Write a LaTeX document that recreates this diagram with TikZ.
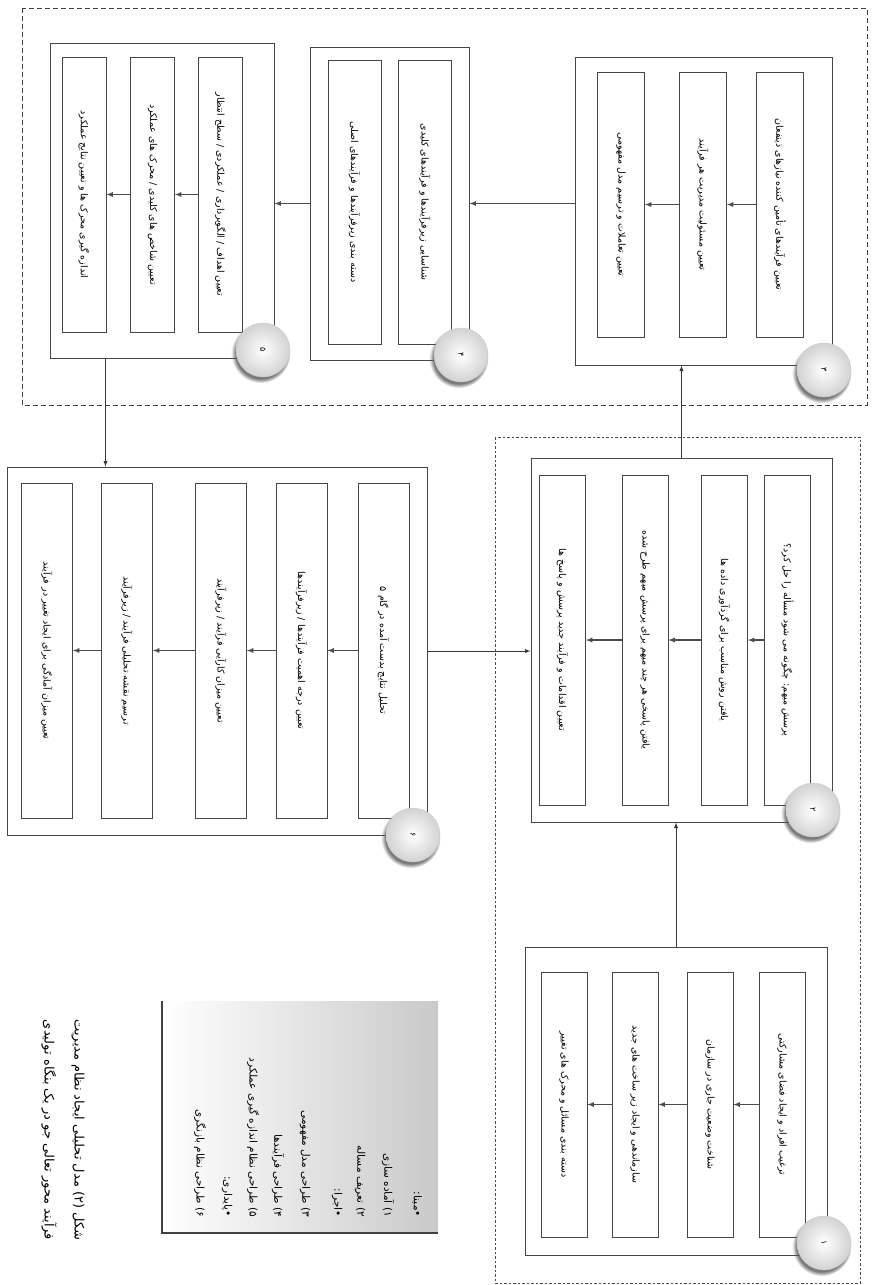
\documentclass[tikz,border=0pt]{standalone}
\usepackage{fontspec}
\newfontfamily\fa[Script=Arabic]{DejaVu Sans}
\TeXXeTstate=1
\usetikzlibrary{shapes,arrows,shadows}
\newcommand{\fatxt}[1]{\fa\beginR #1\endR}

\tikzset{
  stagebox/.style={draw=gray!55!black, line width=1pt, fill=white, inner sep=0pt},
  strip/.style={draw=gray!55!black, line width=0.8pt, fill=white, rotate=-90, inner sep=0pt,
    font=\fontsize{9.5}{11}\selectfont},
  disc/.style={circle, minimum size=54pt, inner sep=0pt, draw=gray!40, inner color=white, outer color=gray!35,
    circular drop shadow={shadow xshift=-2pt, shadow yshift=-3pt, fill=gray!70!black, opacity=0.8},
    font=\fontsize{8}{8}\selectfont},
  flow/.style={->, >=latex, line width=1.2pt, gray!60!black},
  link/.style={->, >=latex, line width=0.9pt, gray!45!black},
  outerframe/.style={draw=gray!50!black, line width=1pt, dash pattern=on 5pt off 3pt},
  innerframe/.style={draw=gray!60!black, line width=0.6pt, dash pattern=on 2.5pt off 2pt},
  legendbox/.style={inner sep=0pt, left color=white, right color=gray!42},
  legendedge/.style={draw=gray!50!black, line width=1.8pt},
  legitem/.style={rotate=-90, anchor=east, inner sep=1pt, font=\fontsize{10.5}{12}\selectfont},
  caption/.style={rotate=-90, align=center, inner sep=0pt, font=\fontsize{13}{30}\selectfont}
}

\begin{document}
\begin{tikzpicture}[x=1pt,y=-1pt]
  \useasboundingbox (0,0) rectangle (871,1285);

  % dashed groups
  \draw[outerframe] (22,8) rectangle (867,405);
  \draw[innerframe] (495,437) rectangle (860,1283);

  % stages
  \node[stagebox, minimum width=302pt, minimum height=308pt] (s1) at (676,1101) {};
  \node[stagebox, minimum width=301pt, minimum height=364pt] (s2) at (681.5,640) {};
  \node[stagebox, minimum width=257pt, minimum height=308pt] (s3) at (703.5,211) {};
  \node[stagebox, minimum width=159pt, minimum height=313pt] (s4) at (389.5,203.5) {};
  \node[stagebox, minimum width=224pt, minimum height=315pt] (s5) at (162,200.5) {};
  \node[stagebox, minimum width=420pt, minimum height=368pt] (s6) at (217,651) {};

  % stage 1
  \node[strip, minimum width=265pt, minimum height=46pt] (s1a) at (782,1104.5) {\fatxt{ترغیب افراد و ایجاد فضای مشارکتی}};
  \node[strip, minimum width=265pt, minimum height=46pt] (s1b) at (710,1104.5) {\fatxt{شناخت وضعیت جاری در سازمان}};
  \node[strip, minimum width=265pt, minimum height=46pt] (s1c) at (635,1104.5) {\fatxt{سازماندهی و ایجاد زیر ساخت های جدید}};
  \node[strip, minimum width=265pt, minimum height=46pt] (s1d) at (564,1104.5) {\fatxt{دسته بندی مسائل و محرک های تغییر}};

  % stage 2
  \node[strip, minimum width=330pt, minimum height=46pt] (s2a) at (787.5,640) {\fatxt{پرسش مبهم: چگونه می شود مسأله را حل کرد؟}};
  \node[strip, minimum width=330pt, minimum height=46pt] (s2b) at (724.5,640) {\fatxt{یافتن روش مناسب برای گردآوری داده ها}};
  \node[strip, minimum width=330pt, minimum height=46pt] (s2c) at (645,640) {\fatxt{یافتن پاسخی هر چند مبهم برای پرسش مبهم طرح شده}};
  \node[strip, minimum width=330pt, minimum height=46pt] (s2d) at (562.5,640) {\fatxt{تعیین اقدامات و فرآیند جدید پرسش و پاسخ ها}};

  % stage 3
  \node[strip, minimum width=265pt, minimum height=47pt] (s3a) at (780,204.5) {\fatxt{تعیین فرآیندهای تأمین کننده نیازهای ذینفعان}};
  \node[strip, minimum width=265pt, minimum height=47pt] (s3b) at (703,204.5) {\fatxt{تعیین مسئولیت مدیریت هر فرآیند}};
  \node[strip, minimum width=265pt, minimum height=47pt] (s3c) at (621,204.5) {\fatxt{تعیین تعاملات و ترسیم مدل مفهومی}};

  % stage 4
  \node[strip, minimum width=284pt, minimum height=53pt] (s4a) at (425,202) {\fatxt{شناسایی زیرفرآیندها و فرآیندهای کلیدی}};
  \node[strip, minimum width=284pt, minimum height=53pt] (s4b) at (354.5,202) {\fatxt{دسته بندی زیرفرآیندها و فرآیندهای اصلی}};

  % stage 5
  \node[strip, minimum width=275pt, minimum height=44pt] (s5a) at (220.5,194.5) {\fatxt{تعیین اهداف / الگوبرداری / عملکردی / سطح انتظار}};
  \node[strip, minimum width=275pt, minimum height=44pt] (s5b) at (152.5,194.5) {\fatxt{تعیین شاخص های کلیدی / محرک های عملکرد}};
  \node[strip, minimum width=275pt, minimum height=44pt] (s5c) at (84,194.5) {\fatxt{اندازه گیری محرک ها و تعیین نتایج عملکرد}};

  % stage 6
  \node[strip, minimum width=335pt, minimum height=51pt] (s6a) at (383.5,650.5) {\fatxt{تحلیل نتایج بدست آمده در گام ۵}};
  \node[strip, minimum width=335pt, minimum height=51pt] (s6b) at (301.5,650.5) {\fatxt{تعیین درجه اهمیت فرآیندها / زیرفرآیندها}};
  \node[strip, minimum width=335pt, minimum height=51pt] (s6c) at (221,650.5) {\fatxt{تعیین میزان کارآیی فرآیند / زیرفرآیند}};
  \node[strip, minimum width=335pt, minimum height=51pt] (s6d) at (127,650.5) {\fatxt{ترسیم نقشه تحلیلی فرآیند / زیرفرآیند}};
  \node[strip, minimum width=335pt, minimum height=51pt] (s6e) at (47,650.5) {\fatxt{تعیین میزان آمادگی برای ایجاد تغییر در فرآیند}};

  % steps inside the stages
  \draw[flow] (s1a.south) -- (s1b.north);
  \draw[flow] (s1b.south) -- (s1c.north);
  \draw[flow] (s1c.south) -- (s1d.north);
  \draw[flow] (s2a.south) -- (s2b.north);
  \draw[flow] (s2b.south) -- (s2c.north);
  \draw[flow] (s2c.south) -- (s2d.north);
  \draw[flow] (s3a.south) -- (s3b.north);
  \draw[flow] (s3b.south) -- (s3c.north);
  \draw[flow] (s5a.south) -- (s5b.north);
  \draw[flow] (s5b.south) -- (s5c.north);
  \draw[flow] (s6a.south) -- (s6b.north);
  \draw[flow] (s6b.south) -- (s6c.north);
  \draw[flow] (s6c.south) -- (s6d.north);
  \draw[flow] (s6d.south) -- (s6e.north);

  % stage to stage
  \draw[link] (s1.north) -- (s1.north |- s2.south);
  \draw[link] (s2.north) -- (s2.north |- s3.south);
  \draw[flow] (s3.west |- s4.east) -- (s4.east);
  \draw[flow] (s4.west) -- (s4.west -| s5.east);
  \draw[link] ([xshift=56pt]s5.south west) -- ([xshift=56pt]s5.south west |- s6.north);
  \draw[link] (s6.east) -- (s6.east -| s2.west);

  % numbers
  \node[disc] (n1) at (824,1243) {\rotatebox{-90}{\fatxt{۱}}};
  \node[disc] (n2) at (813,810) {\rotatebox{-90}{\fatxt{۲}}};
  \node[disc] (n3) at (824,370) {\rotatebox{-90}{\fatxt{۳}}};
  \node[disc] (n4) at (461,355) {\rotatebox{-90}{\fatxt{۴}}};
  \node[disc] (n5) at (263,350) {\rotatebox{-90}{\fatxt{۵}}};
  \node[disc] (n6) at (413,835) {\rotatebox{-90}{\fatxt{۶}}};

  % legend
  \node[legendbox, minimum width=276pt, minimum height=232pt] (leg) at (300,1117) {};
  \draw[legendedge] (leg.north west) -- (leg.south west) -- (leg.south east);
  \node[legitem] (l1) at (417,1218) {\fatxt{•مبنا:}};
  \node[legitem] (l2) at (388,1218) {\fatxt{۱) آماده سازی}};
  \node[legitem] (l3) at (360,1218) {\fatxt{۲) تعریف مساله}};
  \node[legitem] (l4) at (337,1218) {\fatxt{•اجرا:}};
  \node[legitem] (l5) at (305,1218) {\fatxt{۳) طراحی مدل مفهومی}};
  \node[legitem] (l6) at (278,1218) {\fatxt{۴) طراحی فرآیندها}};
  \node[legitem] (l7) at (253,1218) {\fatxt{۵) طراحی نظام اندازه گیری عملکرد}};
  \node[legitem] (l8) at (227,1218) {\fatxt{•پایداری:}};
  \node[legitem] (l9) at (200,1218) {\fatxt{۶) طراحی نظام بازنگری}};

  % caption
  \node[caption] (cap) at (63,1130) {\fatxt{شکل (۲) مدل تحلیلی ایجاد نظام مدیریت}\\\fatxt{فرآیند محور تعالی جو در یک بنگاه تولیدی}};
\end{tikzpicture}
\end{document}
